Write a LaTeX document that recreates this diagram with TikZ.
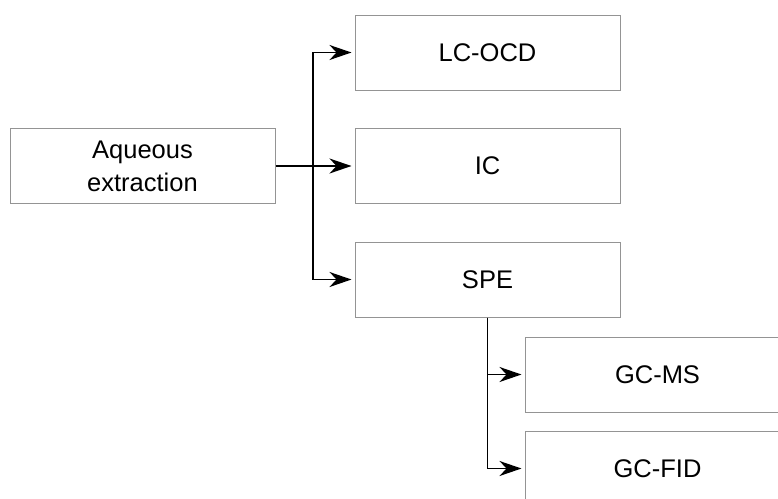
\documentclass[tikz,border=0pt]{standalone}
\usepackage{fontspec}
\setmainfont{Liberation Sans}
\usetikzlibrary{arrows.meta}
\begin{document}
\begin{tikzpicture}[x=1pt,y=-1pt,
  box/.style={draw=black!42, line width=1pt, fill=white,
    minimum width=265pt, minimum height=75pt, inner sep=0pt, align=center,
    font=\fontsize{25.5}{33}\selectfont},
  widebox/.style={box, minimum width=300pt},
  label/.style={box, draw=none, fill=none},
  conn/.style={draw=black, line width=1.8pt},
  arr/.style={conn, -{Stealth[length=22pt,width=15pt,inset=7pt]}, shorten >=3pt}]
\useasboundingbox (0,0) rectangle (778,498);
\clip (0,0) rectangle (778,498);
\fill[white] (0,0) rectangle (778,498);

% sample preparation and analysis boxes
\node[box] (aq)    at (142.5,166)   {Aqueous\\extraction};
\node[box] (lc)    at (487.5,52.5)  {LC-OCD};
\node[box] (ic)    at (487.5,166)   {IC};
\node[box] (spe)   at (487.5,279.5) {SPE};
\node[widebox] (gcms)  at (675,374.5) {};
\node[widebox] (gcfid) at (675,468.5) {};
\node[label] (gcmstext)  at (657.5,374.5) {GC-MS};
\node[label] (gcfidtext) at (657.5,468.5) {GC-FID};

% branching from the aqueous extract
\coordinate (j1) at (313,166);
\draw[arr] (aq.east) -- (ic.west);
\draw[arr] (j1) |- (lc.west);
\draw[arr] (j1) |- (spe.west);

% branching from the SPE extract
\draw[arr] (spe.south) |- (gcms.west);
\draw[arr] (spe.south) |- (gcfid.west);
\end{tikzpicture}
\end{document}
